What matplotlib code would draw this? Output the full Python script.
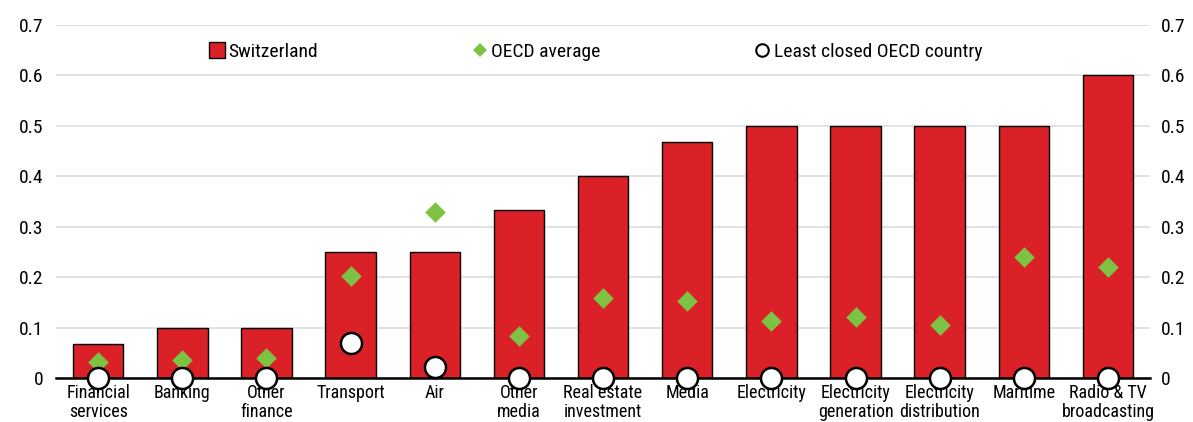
import matplotlib
matplotlib.use("Agg")
import matplotlib.pyplot as plt
from matplotlib.lines import Line2D
import numpy as np

plt.rcParams['font.family'] = ['Roboto Condensed', 'Liberation Sans', 'DejaVu Sans']

categories = ["Financial\nservices", "Banking", "Other\nfinance", "Transport", "Air",
              "Other\nmedia", "Real estate\ninvestment", "Media", "Electricity",
              "Electricity\ngeneration", "Electricity\ndistribution", "Maritime",
              "Radio & TV\nbroadcasting"]
switzerland = [0.067, 0.1, 0.1, 0.25, 0.25, 0.333, 0.4, 0.467, 0.5, 0.5, 0.5, 0.5, 0.6]
oecd_avg = [0.032, 0.036, 0.040, 0.203, 0.330, 0.084, 0.158, 0.152, 0.114, 0.121, 0.106, 0.241, 0.221]
least_closed = [0, 0, 0, 0.070, 0.022, 0, 0, 0, 0, 0, 0, 0, 0]
yticks = [0, 0.1, 0.2, 0.3, 0.4, 0.5, 0.6, 0.7]
ytick_labels = ["0", "0.1", "0.2", "0.3", "0.4", "0.5", "0.6", "0.7"]

RED = "#DA2128"
GREEN = "#7DC242"

fig = plt.figure(figsize=(11.93, 4.22), dpi=100)
ax = fig.add_axes([0.047, 0.104, 0.917, 0.837])
x = np.arange(len(categories))

ax.bar(x, switzerland, width=0.6, color=RED, edgecolor="black", linewidth=1.0, zorder=2)
ax.scatter(x, oecd_avg, marker="D", s=110, color=GREEN, linewidths=0, zorder=4, clip_on=False)
ax.scatter(x, least_closed, marker="o", s=230, facecolor="white", edgecolor="black",
           linewidths=1.8, zorder=5, clip_on=False)

ax.set_xlim(-0.5, len(categories) - 0.5)
ax.set_ylim(0, 0.7)
ax.set_yticks(yticks)
ax.set_yticklabels(ytick_labels)
ax.set_xticks(x)
ax.set_xticklabels(categories, fontsize=13, linespacing=1.1)
ax.tick_params(axis="x", length=0, pad=4)
ax.tick_params(axis="y", length=0, labelsize=14, pad=9)
ax.grid(axis="y", color="#DDDDDD", linewidth=1.2, zorder=0)
ax.set_axisbelow(True)
for side in ["top", "left", "right"]:
    ax.spines[side].set_visible(False)
ax.spines["bottom"].set_linewidth(1.8)
ax.spines["bottom"].set_zorder(3)

# duplicate scale on the right-hand side
axr = ax.twinx()
axr.set_ylim(ax.get_ylim())
axr.set_yticks(yticks)
axr.set_yticklabels(ytick_labels)
axr.tick_params(axis="y", length=0, labelsize=14, pad=8)
for side in ["top", "left", "right", "bottom"]:
    axr.spines[side].set_visible(False)

handles = [
    Line2D([], [], linestyle="none", marker="s", markersize=11, markerfacecolor=RED,
           markeredgecolor="black", markeredgewidth=1.0),
    Line2D([], [], linestyle="none", marker="D", markersize=7, markerfacecolor=GREEN,
           markeredgewidth=0),
    Line2D([], [], linestyle="none", marker="o", markersize=9, markerfacecolor="white",
           markeredgecolor="black", markeredgewidth=1.5),
]
labels = ["Switzerland", "OECD average", "Least closed OECD country"]
ax.legend(handles, labels, ncol=3, loc="upper center", bbox_to_anchor=(0.4925, 0.999),
          frameon=False, fontsize=14, columnspacing=7.8, handletextpad=0.1,
          handlelength=1.0)
fig.savefig("out.png", dpi=100)
